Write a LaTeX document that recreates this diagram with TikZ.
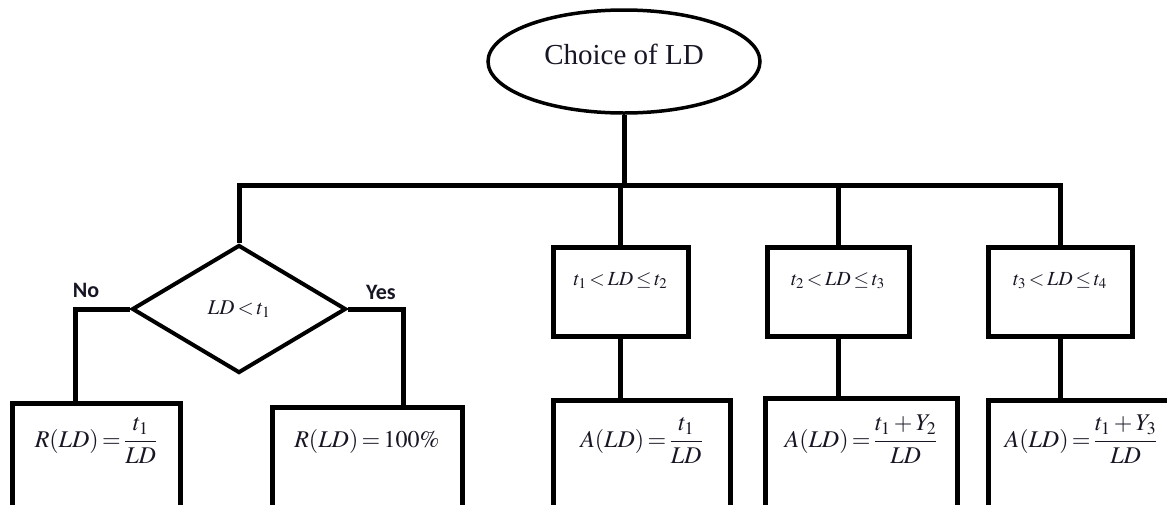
\documentclass[tikz,border=0pt]{standalone}
\usepackage{mathptmx}
\usepackage[no-math]{fontspec}
\setmainfont{Liberation Serif}
\newfontfamily\labelfont{Carlito}
\usetikzlibrary{shapes.geometric}
\definecolor{ink}{RGB}{22,22,36}

\begin{document}
% tighter spacing around relations and binary operators
\thickmuskip=2.5mu plus 1mu
\medmuskip=2.5mu plus 1mu
\begin{tikzpicture}[x=1pt,y=-1pt,
  every node/.style={text=ink},
  box/.style={draw, line width=5pt, rectangle, inner sep=0pt, anchor=base, align=center},
  topbox/.style={box, text height=38pt, text depth=51pt, font=\fontsize{20}{22}\selectfont},
  outbox/.style={box, text depth=150pt, font=\fontsize{24}{28}\selectfont},
  link/.style={line width=5pt},
  tag/.style={font=\labelfont\bfseries\fontsize{22}{24}\selectfont}
]
\useasboundingbox (0,0) rectangle (1167,504);
\clip (0,0) rectangle (1167,504);

% root
\node[ellipse, draw, line width=3.5pt, minimum width=272pt, minimum height=103pt,
      inner sep=0pt, text height=19pt, text depth=13pt,
      font=\fontsize{29}{31}\selectfont] (root) at (624,61.5) {Choice of LD};

% decision for the first range
\node[diamond, draw, line width=4pt, minimum width=214pt, minimum height=128pt,
      inner sep=0pt, aspect=1.67, font=\fontsize{21}{23}\selectfont] (d) at (239,309) {$LD < t_1$};

% range boxes
\node[topbox, minimum width=135pt] (b1) at (620.5,285) {$t_1 < LD \le t_2$};
\node[topbox, minimum width=142pt] (b2) at (838,285) {$t_2 < LD \le t_3$};
\node[topbox, minimum width=144pt] (b3) at (1060,285) {$t_3 < LD \le t_4$};

% outcome boxes
\node[outbox, minimum width=168pt, text height=44pt] (r1) at (96,447) {$R(LD)=\displaystyle\frac{t_1}{LD}$};
\node[outbox, minimum width=190pt, text height=40pt] (r2) at (367,447) {$R(LD)=100\%$};
\node[outbox, minimum width=177pt, text height=47pt] (a1) at (641.5,447) {$A(LD)=\displaystyle\frac{t_1}{LD}$};
\node[outbox, minimum width=192pt, text height=49pt] (a2) at (861,447) {$A(LD)=\displaystyle\frac{t_1+Y_2}{LD}$};
\node[outbox, minimum width=186pt, text height=47pt] (a3) at (1081,447) {$A(LD)=\displaystyle\frac{t_1+Y_3}{LD}$};

% branch labels
\node[tag] (no) at (86,290) {No};
\node[tag] (yes) at (381,292) {Yes};

% connectors
\coordinate (bus) at (0,185);
\draw[link] (root.south) -- (root.south |- bus);
\draw[link] (d.north) -- (d.north |- bus) -- (b3.north |- bus) -- (b3.north);
\draw[link] (b1.north |- bus) -- (b1.north);
\draw[link] (b2.north |- bus) -- (b2.north);
\draw[link] (d.west) -| ([xshift=-21pt]r1.north);
\draw[link] (d.east) -| ([xshift=36pt]r2.north);
\draw[link] (b1.south) -- (b1.south |- a1.north);
\draw[link] (b2.south) -- (b2.south |- a2.north);
\draw[link] (b3.south) -- (b3.south |- a3.north);
\end{tikzpicture}
\end{document}
